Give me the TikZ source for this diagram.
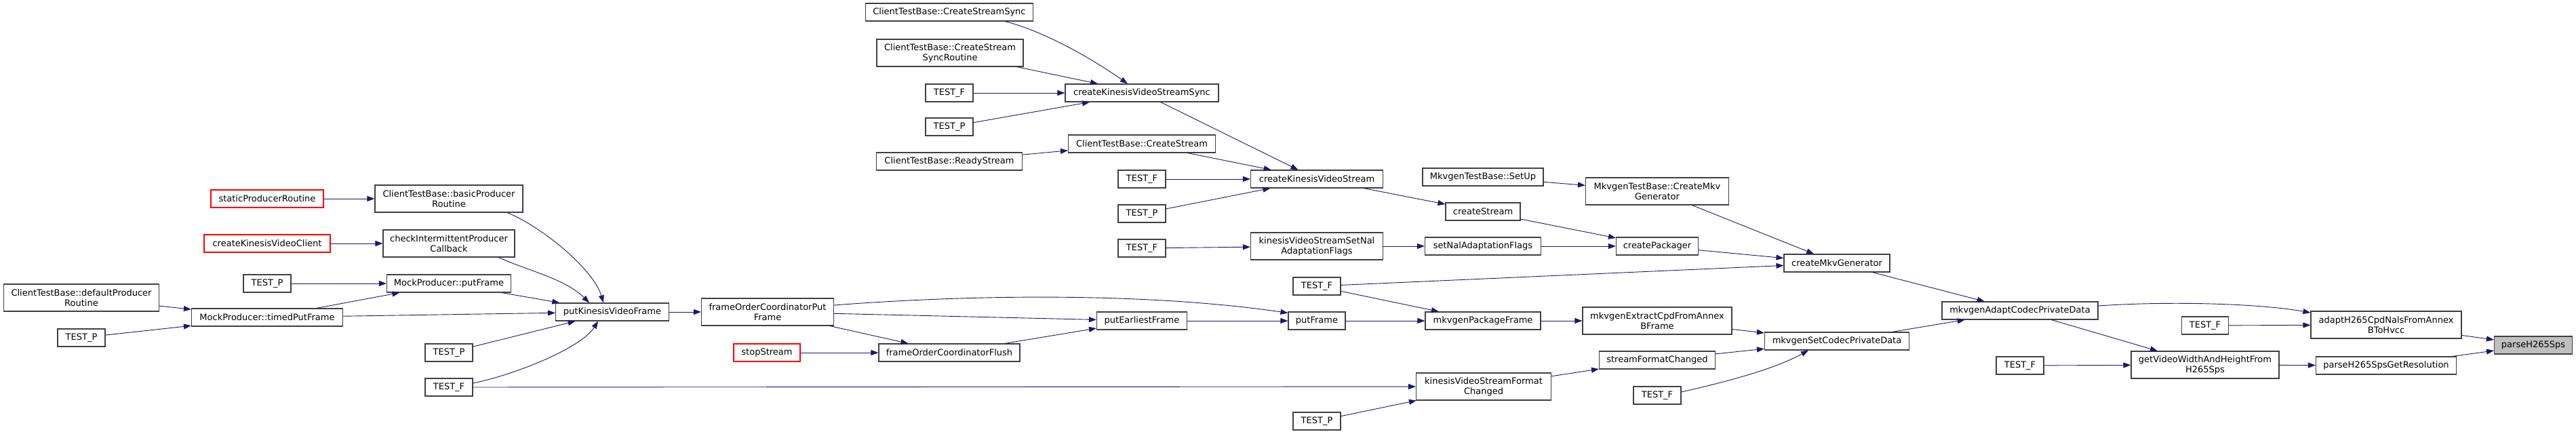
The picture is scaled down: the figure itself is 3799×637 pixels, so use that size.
\documentclass[tikz,border=0pt]{standalone}
\usepackage{fontspec}
\setmainfont{DejaVu Sans}
\usetikzlibrary{arrows.meta}
\definecolor{callblue}{RGB}{25,25,112}
\definecolor{boxgrey}{RGB}{64,64,64}
\definecolor{rootgrey}{RGB}{191,191,191}

\begin{document}
\begin{tikzpicture}[x=1pt,y=-1pt,
    fn/.style={draw=boxgrey,line width=1.1pt,fill=white,inner xsep=3pt,inner ysep=0pt,
      minimum height=26pt,align=center,font=\fontsize{13}{15}\selectfont},
    fntwo/.style={fn,minimum height=40pt},
    fnred/.style={fn,draw=red},
    fnroot/.style={fn,fill=rootgrey},
    call/.style={draw=callblue,line width=0.9pt,-{Triangle[length=11pt,width=8pt]}}]

  \useasboundingbox (0,0) rectangle (3799,637);

  %-------------------- producer side --------------------
  \node[fntwo,minimum width=229pt] (dpr)  at (120,439) {ClientTestBase::defaultProducer\\Routine};
  \node[fn,minimum width=70pt]     (tpL)  at (120,498) {TEST\_P};

  \node[fnred,minimum width=166pt] (spr)  at (394,293) {staticProducerRoutine};
  \node[fnred,minimum width=186pt] (ckvc) at (394,359) {createKinesisVideoClient};
  \node[fn,minimum width=70pt]     (tpB)  at (394,418) {TEST\_P};
  \node[fn,minimum width=223pt]    (tpf)  at (394,468) {MockProducer::timedPutFrame};

  \node[fntwo,minimum width=218pt] (bpr)  at (662,293) {ClientTestBase::basicProducer\\Routine};
  \node[fntwo,minimum width=194pt] (cipc) at (662,359) {checkIntermittentProducer\\Callback};
  \node[fn,minimum width=183pt]    (mpf)  at (662,418) {MockProducer::putFrame};
  \node[fn,minimum width=70pt]     (tpC)  at (662,520) {TEST\_P};
  \node[fn,minimum width=70pt]     (tfC)  at (662,571) {TEST\_F};

  \node[fn,minimum width=167pt]    (pkvf) at (903,460) {putKinesisVideoFrame};
  \node[fntwo,minimum width=195pt] (fopf) at (1132,460) {frameOrderCoordinatorPut\\Frame};
  \node[fnred,minimum width=98pt]  (stop) at (1131,520) {stopStream};

  %-------------------- stream creation --------------------
  \node[fn,minimum width=247pt]    (css)  at (1400,18)  {ClientTestBase::CreateStreamSync};
  \node[fntwo,minimum width=216pt] (cssr) at (1401,78)  {ClientTestBase::CreateStream\\SyncRoutine};
  \node[fn,minimum width=70pt]     (tfF)  at (1400,137) {TEST\_F};
  \node[fn,minimum width=70pt]     (tpF)  at (1400,187) {TEST\_P};
  \node[fn,minimum width=215pt]    (rs)   at (1400,238) {ClientTestBase::ReadyStream};
  \node[fn,minimum width=208pt]    (focf) at (1400,520) {frameOrderCoordinatorFlush};

  \node[fn,minimum width=226pt]    (ckvss) at (1684,137) {createKinesisVideoStreamSync};
  \node[fn,minimum width=217pt]    (cs)    at (1684,212) {ClientTestBase::CreateStream};
  \node[fn,minimum width=70pt]     (tfG1)  at (1684,264) {TEST\_F};
  \node[fn,minimum width=70pt]     (tpG)   at (1684,315) {TEST\_P};
  \node[fn,minimum width=70pt]     (tfG2)  at (1684,366) {TEST\_F};
  \node[fn,minimum width=133pt]    (pef)   at (1684,473) {putEarliestFrame};

  \node[fn,minimum width=195pt]    (ckvs)   at (1942,264) {createKinesisVideoStream};
  \node[fntwo,minimum width=195pt] (kvsnal) at (1942,363) {kinesisVideoStreamSetNal\\AdaptationFlags};
  \node[fn,minimum width=70pt]     (tfH)    at (1942,422) {TEST\_F};
  \node[fn,minimum width=84pt]     (pf)     at (1942,473) {putFrame};
  \node[fn,minimum width=70pt]     (tpH)    at (1942,621) {TEST\_P};

  %-------------------- mkv generator --------------------
  \node[fn,minimum width=178pt]    (setup) at (2187,261) {MkvgenTestBase::SetUp};
  \node[fn,minimum width=110pt]    (cstr)  at (2187,312) {createStream};
  \node[fn,minimum width=171pt]    (snaf)  at (2187,363) {setNalAdaptationFlags};
  \node[fn,minimum width=170pt]    (mpkf)  at (2187,473) {mkvgenPackageFrame};
  \node[fntwo,minimum width=199pt] (kvsfc) at (2188,570) {kinesisVideoStreamFormat\\Changed};

  \node[fntwo,minimum width=211pt] (cmkvg) at (2444,282) {MkvgenTestBase::CreateMkv\\Generator};
  \node[fn,minimum width=121pt]    (cpkg)  at (2444,363) {createPackager};
  \node[fntwo,minimum width=220pt] (extr)  at (2444,473) {mkvgenExtractCpdFromAnnex\\BFrame};
  \node[fn,minimum width=171pt]    (sfc)   at (2444,531) {streamFormatChanged};
  \node[fn,minimum width=70pt]     (tfJ)   at (2444,583) {TEST\_F};

  \node[fn,minimum width=156pt]    (cmg)    at (2709,388) {createMkvGenerator};
  \node[fn,minimum width=213pt]    (setcpd) at (2709,503) {mkvgenSetCodecPrivateData};

  \node[fn,minimum width=230pt]    (adapt) at (2979,458) {mkvgenAdaptCodecPrivateData};
  \node[fn,minimum width=70pt]     (tfL)   at (2979,539) {TEST\_F};

  %-------------------- H265 sps --------------------
  \node[fn,minimum width=69pt]     (tfM)     at (3252,480) {TEST\_F};
  \node[fntwo,minimum width=218pt] (gvwh)    at (3252,538) {getVideoWidthAndHeightFrom\\H265Sps};
  \node[fntwo,minimum width=222pt] (h265cpd) at (3519,479) {adaptH265CpdNalsFromAnnex\\BToHvcc};
  \node[fn,minimum width=207pt]    (sres)    at (3519,539) {parseH265SpsGetResolution};
  \node[fnroot,minimum width=115pt] (sps)    at (3736,509) {parseH265Sps};

  %-------------------- calls --------------------
  \draw[call] (dpr) -- (tpf);
  \draw[call] (tpL) -- (tpf);
  \draw[call] (spr) -- (bpr);
  \draw[call] (ckvc) -- (cipc);
  \draw[call] (tpB) -- (mpf);
  \draw[call] (tpf) -- (mpf);
  \draw[call] (tpf) -- (pkvf);
  \draw[call] ([xshift=86pt]bpr.south) .. controls +(50,20) and +(-15,-50) .. ([xshift=-13pt]pkvf.north);
  \draw[call] ([xshift=73pt]cipc.south) .. controls +(45,20) and +(-35,-35) .. ([xshift=-34pt]pkvf.north);
  \draw[call] (mpf) -- (pkvf);
  \draw[call] (tpC) -- (pkvf);
  \draw[call] ([yshift=6pt]tfC.east) .. controls +(60,-12) and +(-25,40) .. ([xshift=-21pt]pkvf.south);
  \draw[call] (tfC) -- (kvsfc);
  \draw[call] (pkvf) -- (fopf);

  \draw[call] ([yshift=10pt]fopf.east) .. controls +(220,-17) and +(-200,-29) .. ([yshift=-2pt]pf.north west);
  \draw[call] (fopf) -- (pef);
  \draw[call] (fopf) -- (focf);
  \draw[call] (stop) -- (focf);
  \draw[call] (focf) -- (pef);
  \draw[call] (pef) -- (pf);

  \draw[call] ([xshift=82pt]css.south) .. controls +(60,15) and +(-50,-35) .. ([xshift=-21pt]ckvss.north);
  \draw[call] (cssr) -- (ckvss);
  \draw[call] (tfF) -- (ckvss);
  \draw[call] (tpF) -- (ckvss);
  \draw[call] (rs) -- (cs);
  \draw[call] (ckvss) -- (ckvs);
  \draw[call] (cs) -- (ckvs);
  \draw[call] (tfG1) -- (ckvs);
  \draw[call] (tpG) -- (ckvs);
  \draw[call] (tfG2) -- (kvsnal);

  \draw[call] (ckvs) -- (cstr);
  \draw[call] (kvsnal) -- (snaf);
  \draw[call] (setup) -- (cmkvg);
  \draw[call] (cstr) -- (cpkg);
  \draw[call] (snaf) -- (cpkg);
  \draw[call] (cmkvg) -- (cmg);
  \draw[call] (cpkg) -- (cmg);
  \draw[call] (tfH) -- (cmg);
  \draw[call] (tfH) -- (mpkf);
  \draw[call] (pf) -- (mpkf);
  \draw[call] (mpkf) -- (extr);
  \draw[call] (kvsfc) -- (sfc);
  \draw[call] (tpH) -- (kvsfc);

  \draw[call] (extr) -- (setcpd);
  \draw[call] (sfc) -- (setcpd);
  \draw[call] ([yshift=5pt]tfJ.east) .. controls +(80,-18) and +(-45,25) .. ([xshift=-42pt]setcpd.south);
  \draw[call] (cmg) -- (adapt);
  \draw[call] (setcpd) -- (adapt);

  \draw[call] ([yshift=7pt]adapt.east) .. controls +(100,-7) and +(-80,-14) .. ([yshift=18pt]h265cpd.west);
  \draw[call] (adapt) -- (gvwh);
  \draw[call] (tfM) -- (h265cpd);
  \draw[call] (tfL) -- (gvwh);
  \draw[call] (gvwh) -- (sres);
  \draw[call] (h265cpd) -- (sps);
  \draw[call] (sres) -- (sps);

\end{tikzpicture}
\end{document}
